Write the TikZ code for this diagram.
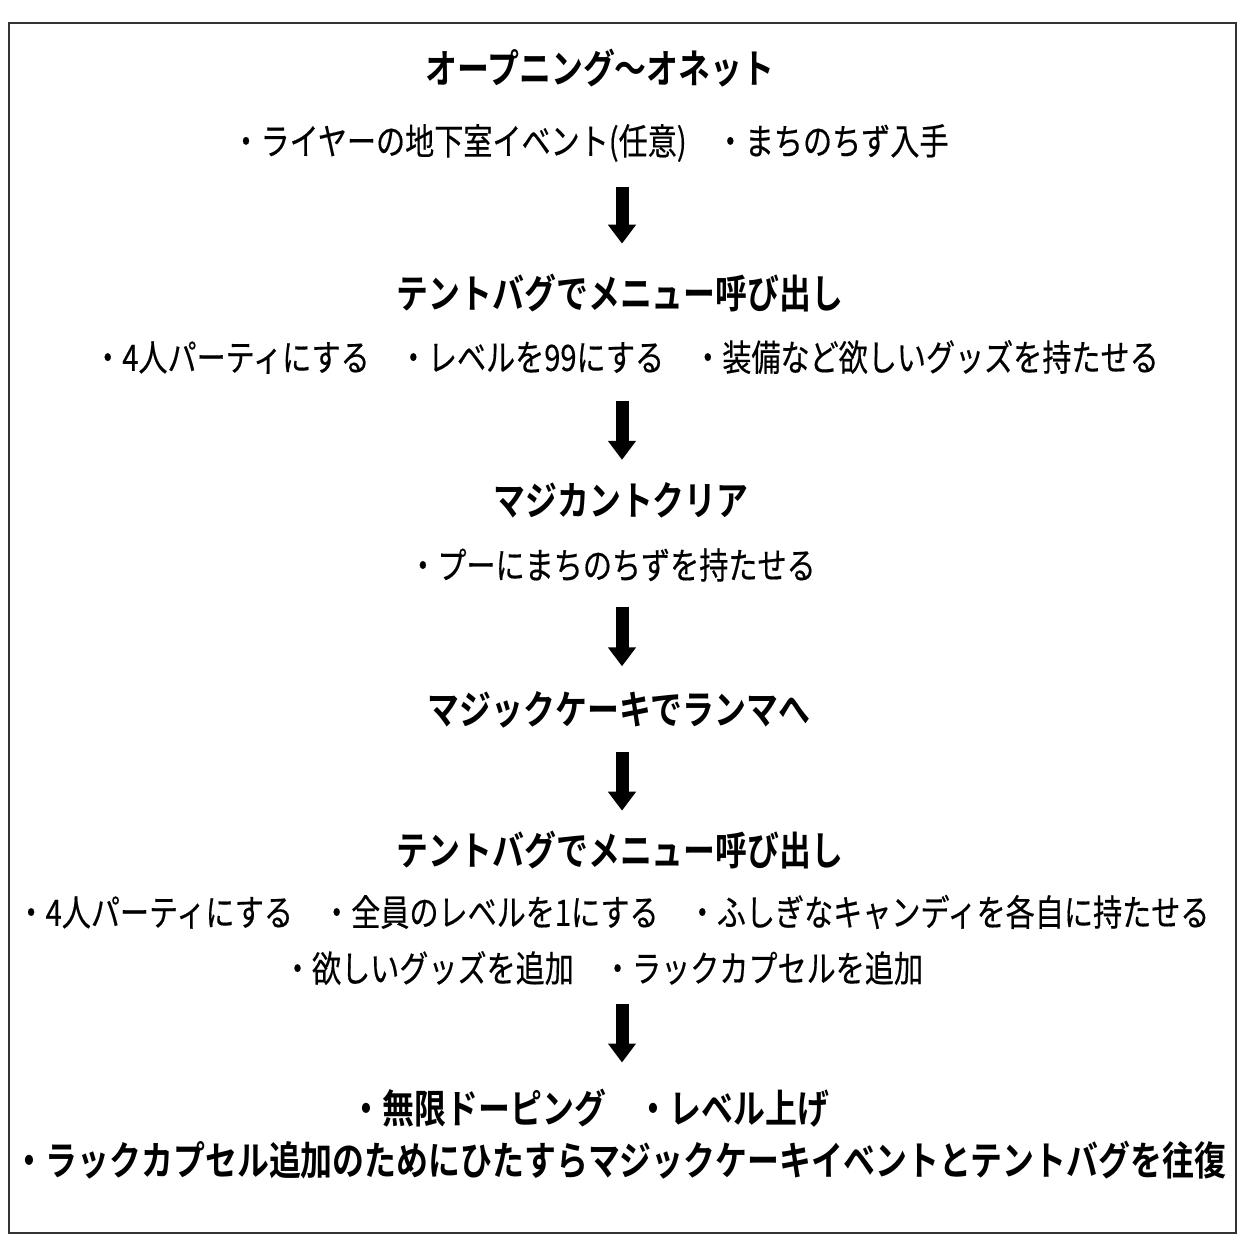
\documentclass[tikz,border=0pt]{standalone}
\usepackage{fontspec}
\setmainfont{Noto Sans CJK JP}[FakeStretch=0.8, BoldFont={* Bold}]
\newfontfamily\todofont{Noto Sans CJK JP}[FakeStretch=0.8, FakeBold=0.4]
\usetikzlibrary{arrows.meta,calc}

\begin{document}
\begin{tikzpicture}[
    x=0.02cm, y=-0.02cm,
    stage/.style={inner sep=0pt, font=\fontsize{22.7}{26}\selectfont\bfseries},
    todo/.style={inner sep=0pt, font=\todofont\fontsize{20.7}{24}\selectfont},
    flow/.style={-{Triangle[width=0.54cm, length=0.38cm]}, line width=0.26cm}
]
\useasboundingbox (0,0) rectangle (1242,1242);

% frame
\draw[black!80, line width=0.03cm] (9,23) rectangle (1236,1233);
\coordinate (axis) at (622,0);

% Stage 1
\node[stage] (opening) at (600,68) {オープニング〜オネット};
\node[todo] (lyre) at (590,143) {・ライヤーの地下室イベント(任意)　・まちのちず入手};

% Stage 2
\node[stage] (tent1) at (620,293) {テントバグでメニュー呼び出し};
\node[todo] (party1) at (626,357) {・4人パーティにする　・レベルを99にする　・装備など欲しいグッズを持たせる};

% Stage 3
\node[stage] (magicant) at (621,500) {マジカントクリア};
\node[todo] (poo) at (612,565) {・プーにまちのちずを持たせる};

% Stage 4
\node[stage] (cake) at (619,710) {マジックケーキでランマへ};

% Stage 5
\node[stage] (tent2) at (620,850) {テントバグでメニュー呼び出し};
\node[todo] (party2) at (613,912) {・4人パーティにする　・全員のレベルを1にする　・ふしぎなキャンディを各自に持たせる};
\node[todo] (capsule) at (603,968) {・欲しいグッズを追加　・ラックカプセルを追加};

% Result
\node[stage] (doping) at (590,1108) {・無限ドーピング　・レベル上げ};
\node[stage] (loop) at (620,1160) {・ラックカプセル追加のためにひたすらマジックケーキイベントとテントバグを往復};

% arrows between stages
\draw[flow, shorten <=0.49cm, shorten >=0.60cm] (lyre.south -| axis) -- (tent1.north -| axis);
\draw[flow, shorten <=0.53cm, shorten >=0.44cm] (party1.south -| axis) -- (magicant.north -| axis);
\draw[flow, shorten <=0.49cm, shorten >=0.50cm] (poo.south -| axis) -- (cake.north -| axis);
\draw[flow, shorten <=0.46cm, shorten >=0.40cm] (cake.south -| axis) -- (tent2.north -| axis);
\draw[flow, shorten <=0.37cm, shorten >=0.52cm] (capsule.south -| axis) -- (doping.north -| axis);

\end{tikzpicture}
\end{document}
